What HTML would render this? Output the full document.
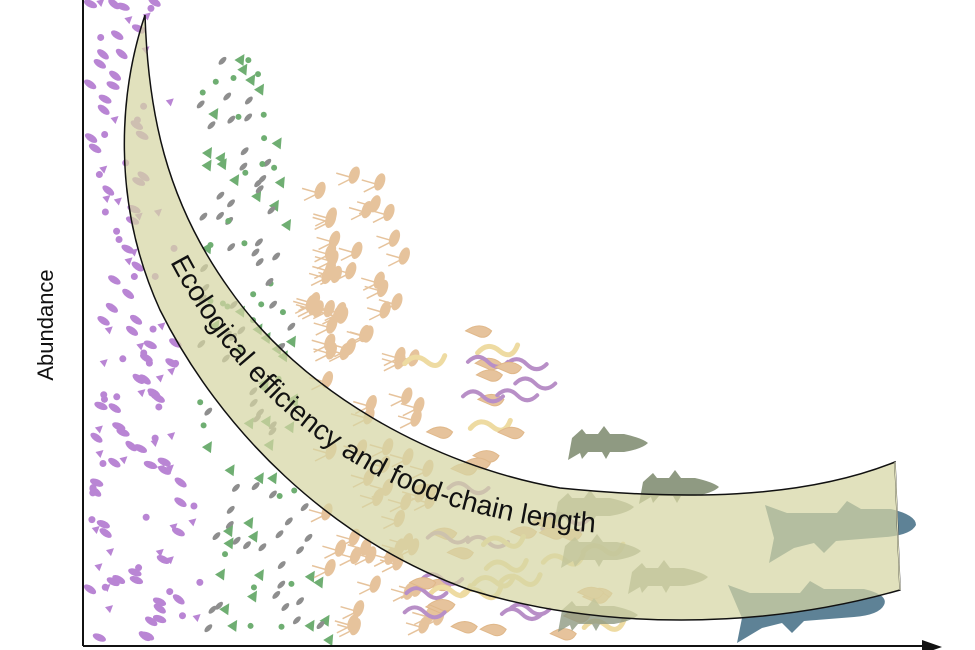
<!DOCTYPE html>
<html><head><meta charset="utf-8"><style>
html,body{margin:0;padding:0;background:#fff;width:975px;height:650px;overflow:hidden}
svg{display:block}
</style></head><body>
<svg id="s" width="975" height="650" viewBox="0 0 975 650" xmlns="http://www.w3.org/2000/svg">
<defs>
<path id="mid" d="M170,262 C235,385 335,475 465,510 C525,526 580,536 700,536"/>
<path id="sf" d="M0,0 l10,-9 l4,5 h12 l6,-8 l6,8 h14 q18,4 24,9 q-6,6 -24,9 h-14 l-4,7 l-4,-7 h-14 l-6,7 l-2,-6 l-12,7 z"/>
</defs>
<g id="org"></g>
<g id="fish" fill="#8f9a82">
 <use href="#sf" x="572" y="438"/>
 <use href="#sf" x="643" y="482"/>
 <use href="#sf" x="558" y="502" opacity=".8"/>
 <use href="#sf" x="565" y="546" opacity=".8"/>
 <use href="#sf" x="632" y="572" opacity=".8"/>
 <use href="#sf" x="562" y="610" opacity=".8"/>
 <path d="M765,505 l22,8 h50 l10,-12 l14,8 h30 q25,6 25,16 q-5,10 -30,12 l-50,4 l-12,12 l-10,-10 l-20,5 l-25,15 l5,-25 z" fill="#5e8296"/>
 <path d="M728,585 l22,8 h50 l10,-12 l14,8 h40 q25,6 20,16 q-5,10 -30,12 l-50,4 l-12,12 l-10,-10 l-20,5 l-25,15 l5,-25 z" fill="#5e8296"/>
</g>
<path d="M145,15 C120,90 110,200 160,310 C220,430 330,540 470,590 C600,630 760,630 900,590 L895,462 C800,500 680,500 560,488 C430,465 300,390 230,290 C165,200 148,110 145,15 Z" fill="rgba(214,214,163,0.72)" stroke="#111" stroke-width="1.5"/>
<path d="M895,462 L900,590" stroke="#e0e0c0" stroke-width="1"/>
<text font-family="Liberation Sans, sans-serif" font-size="28" fill="#111"><textPath href="#mid">Ecological efficiency and food-chain length</textPath></text>
<line x1="83" y1="0" x2="83" y2="646" stroke="#111" stroke-width="2"/>
<line x1="83" y1="646" x2="930" y2="646" stroke="#111" stroke-width="2"/>
<path d="M922,640 L942,647 L922,654 Z" fill="#111"/>
<text transform="translate(53,325) rotate(-90)" text-anchor="middle" font-family="Liberation Sans, sans-serif" font-size="22" fill="#111">Abundance</text>
</svg>
<script>
var g=document.getElementById('org'),seed=7;
function r(){seed=(seed*16807)%2147483647;return seed/2147483647;}
function add(s){g.insertAdjacentHTML('beforeend',s);}
for(var i=0;i<230;i++){var x=90+r()*120,y=r()*640;var t=r();
 if(x>120+ y*0.08+ (r()*40)) continue;
 var c='#b985d4';
 if(t<.5) add('<ellipse cx="'+x+'" cy="'+y+'" rx="7" ry="3.5" fill="'+c+'" transform="rotate('+(20+r()*20)+' '+x+' '+y+')"/>');
 else if(t<.75) add('<circle cx="'+x+'" cy="'+y+'" r="3.5" fill="'+c+'"/>');
 else add('<path d="M'+x+','+y+' l8,-2 l-3,8 z" fill="'+c+'"/>');}
for(var i=0;i<150;i++){var y=60+r()*580,x=200+r()*(60+y*0.1);var t=r();
 if(t<.35) add('<path d="M'+x+','+y+' l10,-6 l-1,12 z" fill="#6fae72"/>');
 else if(t<.55) add('<circle cx="'+x+'" cy="'+y+'" r="3" fill="#6fae72"/>');
 else add('<ellipse cx="'+x+'" cy="'+y+'" rx="5" ry="2.5" fill="#8e8e8e" transform="rotate(-45 '+x+' '+y+')"/>');}
for(var i=0;i<80;i++){var y=175+r()*460,x=310+r()*(90+ (y-175)*0.1);
 add('<ellipse cx="'+x+'" cy="'+y+'" rx="5" ry="9" fill="#e6c39c" transform="rotate(20 '+x+' '+y+')"/>');
 add('<path d="M'+(x-4)+','+(y+2)+' l-14,-4 M'+(x-4)+','+(y+4)+' l-12,6" stroke="#e6c39c" stroke-width="1.5"/>');}
for(var i=0;i<55;i++){var y=330+r()*310,x=400+r()*(120+(y-330)*0.3);var t=r();
 if(x>590) continue;
 if(t<.6) add('<path d="M'+x+','+y+' q14,-10 26,0 q-4,8 -12,6 z" fill="#e6c39c" stroke="#e0b88a" stroke-width="1"/>');
 else if(t<.8) add('<path d="M'+x+','+y+' q10,-10 20,0 t20,0" fill="none" stroke="#b88fc7" stroke-width="4" stroke-linecap="round"/>');
 else add('<path d="M'+x+','+y+' q10,-12 22,-2 t18,-6" fill="none" stroke="#eedba2" stroke-width="5" stroke-linecap="round"/>');}
</script>
</body></html>
